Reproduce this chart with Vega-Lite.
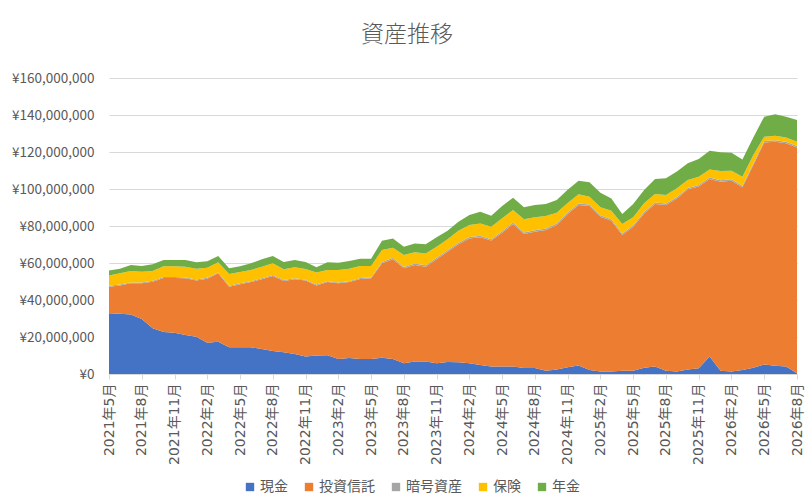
{
  "$schema": "https://vega.github.io/schema/vega-lite/v6.json",
  "width": 688,
  "height": 296,
  "autosize": {"type": "none"},
  "padding": {"left": 109, "top": 78, "right": 10, "bottom": 121},
  "background": "white",
  "config": {
    "font": "Noto Sans CJK JP",
    "view": {"stroke": null}
  },
  "title": {
    "text": "資産推移",
    "fontSize": 23,
    "fontWeight": 300,
    "color": "#595959",
    "anchor": "middle",
    "dx": -46,
    "offset": 24
  },
  "datasets": {
    "order": [
      {"種類": "現金", "順": 1},
      {"種類": "投資信託", "順": 2},
      {"種類": "暗号資産", "順": 3},
      {"種類": "保険", "順": 4},
      {"種類": "年金", "順": 5}
    ]
  },
  "data": {
    "values": [
      {"月": "2021年5月", "現金": 32800000, "投資信託": 14400000, "暗号資産": 500000, "保険": 5500000, "年金": 2700000},
      {"月": "2021年6月", "現金": 32600000, "投資信託": 15300000, "暗号資産": 500000, "保険": 6000000, "年金": 2500000},
      {"月": "2021年7月", "現金": 32100000, "投資信託": 16900000, "暗号資産": 500000, "保険": 6200000, "年金": 3200000},
      {"月": "2021年8月", "現金": 29700000, "投資信託": 19300000, "暗号資産": 500000, "保険": 5800000, "年金": 3100000},
      {"月": "2021年9月", "現金": 24700000, "投資信託": 25200000, "暗号資産": 500000, "保険": 5300000, "年金": 3600000},
      {"月": "2021年10月", "現金": 22700000, "投資信託": 29200000, "暗号資産": 500000, "保険": 5800000, "年金": 3400000},
      {"月": "2021年11月", "現金": 22300000, "投資信託": 29600000, "暗号資産": 500000, "保険": 5800000, "年金": 3400000},
      {"月": "2021年12月", "現金": 21100000, "投資信託": 30600000, "暗号資産": 500000, "保険": 5800000, "年金": 3600000},
      {"月": "2022年1月", "現金": 20200000, "投資信託": 30400000, "暗号資産": 500000, "保険": 5800000, "年金": 3500000},
      {"月": "2022年2月", "現金": 16900000, "投資信託": 34600000, "暗号資産": 500000, "保険": 5500000, "年金": 3400000},
      {"月": "2022年3月", "現金": 17500000, "投資信託": 36900000, "暗号資産": 500000, "保険": 5500000, "年金": 3400000},
      {"月": "2022年4月", "現金": 14400000, "投資信託": 32800000, "暗号資産": 500000, "保険": 6400000, "年金": 3000000},
      {"月": "2022年5月", "現金": 14400000, "投資信託": 34100000, "暗号資産": 500000, "保険": 6100000, "年金": 3100000},
      {"月": "2022年6月", "現金": 14400000, "投資信託": 35300000, "暗号資産": 500000, "保険": 6000000, "年金": 3600000},
      {"月": "2022年7月", "現金": 13500000, "投資信託": 37700000, "暗号資産": 500000, "保険": 6300000, "年金": 4000000},
      {"月": "2022年8月", "現金": 12500000, "投資信託": 40500000, "暗号資産": 500000, "保険": 6300000, "年金": 4000000},
      {"月": "2022年9月", "現金": 11700000, "投資信託": 38600000, "暗号資産": 500000, "保険": 5800000, "年金": 3900000},
      {"月": "2022年10月", "現金": 10800000, "投資信託": 40400000, "暗号資産": 500000, "保険": 6000000, "年金": 3900000},
      {"月": "2022年11月", "現金": 9400000, "投資信託": 41100000, "暗号資産": 500000, "保険": 5800000, "年金": 3700000},
      {"月": "2022年12月", "現金": 10000000, "投資信託": 37900000, "暗号資産": 500000, "保険": 6400000, "年金": 2900000},
      {"月": "2023年1月", "現金": 10100000, "投資信託": 39600000, "暗号資産": 500000, "保険": 6000000, "年金": 4200000},
      {"月": "2023年2月", "現金": 8100000, "投資信託": 40900000, "暗号資産": 500000, "保険": 6700000, "年金": 4000000},
      {"月": "2023年3月", "現金": 8600000, "投資信託": 41100000, "暗号資産": 500000, "保険": 6700000, "年金": 4200000},
      {"月": "2023年4月", "現金": 8100000, "投資信託": 43300000, "暗号資産": 500000, "保険": 6500000, "年金": 3900000},
      {"月": "2023年5月", "現金": 8100000, "投資信託": 43600000, "暗号資産": 500000, "保険": 6200000, "年金": 3900000},
      {"月": "2023年6月", "現金": 8800000, "投資信託": 51000000, "暗号資産": 800000, "保険": 6400000, "年金": 5000000},
      {"月": "2023年7月", "現金": 8100000, "投資信託": 53900000, "暗号資産": 800000, "保険": 5500000, "年金": 5000000},
      {"月": "2023年8月", "現金": 5800000, "投資信託": 51300000, "暗号資産": 800000, "保険": 6400000, "年金": 4500000},
      {"月": "2023年9月", "現金": 6800000, "投資信託": 52100000, "暗号資産": 800000, "保険": 6100000, "年金": 4800000},
      {"月": "2023年10月", "現金": 6800000, "投資信託": 51200000, "暗号資産": 800000, "保険": 6400000, "年金": 4900000},
      {"月": "2023年11月", "現金": 5800000, "投資信託": 56200000, "暗号資産": 800000, "保険": 6000000, "年金": 5100000},
      {"月": "2023年12月", "現金": 6500000, "投資信託": 59600000, "暗号資産": 800000, "保険": 5900000, "年金": 4700000},
      {"月": "2024年1月", "現金": 6400000, "投資信託": 63700000, "暗号資産": 800000, "保険": 6600000, "年金": 4800000},
      {"月": "2024年2月", "現金": 5800000, "投資信託": 67500000, "暗号資産": 800000, "保険": 6400000, "年金": 5400000},
      {"月": "2024年3月", "現金": 4900000, "投資信託": 69000000, "暗号資産": 800000, "保険": 6700000, "年金": 6300000},
      {"月": "2024年4月", "現金": 4000000, "投資信託": 68100000, "暗号資産": 800000, "保険": 6700000, "年金": 6000000},
      {"月": "2024年5月", "現金": 4000000, "投資信託": 72400000, "暗号資産": 800000, "保険": 7000000, "年金": 6600000},
      {"月": "2024年6月", "現金": 4000000, "投資信託": 77100000, "暗号資産": 800000, "保険": 6700000, "年金": 6700000},
      {"月": "2024年7月", "現金": 3200000, "投資信託": 72500000, "暗号資産": 800000, "保険": 7100000, "年金": 6500000},
      {"月": "2024年8月", "現金": 3200000, "投資信託": 73700000, "暗号資産": 800000, "保険": 7000000, "年金": 6700000},
      {"月": "2024年9月", "現金": 1800000, "投資信託": 76000000, "暗号資産": 800000, "保険": 6800000, "年金": 6500000},
      {"月": "2024年10月", "現金": 2500000, "投資信託": 78000000, "暗号資産": 800000, "保険": 5900000, "年金": 6900000},
      {"月": "2024年11月", "現金": 3600000, "投資信託": 82900000, "暗号資産": 800000, "保険": 5200000, "年金": 7100000},
      {"月": "2024年12月", "現金": 4600000, "投資信託": 86800000, "暗号資産": 800000, "保険": 5000000, "年金": 7200000},
      {"月": "2025年1月", "現金": 2200000, "投資信託": 88600000, "暗号資産": 800000, "保険": 4200000, "年金": 7800000},
      {"月": "2025年2月", "現金": 1300000, "投資信託": 83700000, "暗号資産": 800000, "保険": 4300000, "年金": 7900000},
      {"月": "2025年3月", "現金": 1300000, "投資信託": 81600000, "暗号資産": 800000, "保険": 4600000, "年金": 6600000},
      {"月": "2025年4月", "現金": 1800000, "投資信託": 73300000, "暗号資産": 800000, "保険": 5200000, "年金": 5400000},
      {"月": "2025年5月", "現金": 1800000, "投資信託": 77800000, "暗号資産": 800000, "保険": 4300000, "年金": 7200000},
      {"月": "2025年6月", "現金": 3400000, "投資信託": 83400000, "暗号資産": 800000, "保険": 4700000, "年金": 7200000},
      {"月": "2025年7月", "現金": 4000000, "投資信託": 87900000, "暗号資産": 800000, "保険": 4600000, "年金": 8100000},
      {"月": "2025年8月", "現金": 1800000, "投資信託": 89600000, "暗号資産": 800000, "保険": 4600000, "年金": 9000000},
      {"月": "2025年9月", "現金": 1300000, "投資信託": 93600000, "暗号資産": 800000, "保険": 4700000, "年金": 9000000},
      {"月": "2025年10月", "現金": 2500000, "投資信託": 97300000, "暗号資産": 800000, "保険": 4300000, "年金": 9000000},
      {"月": "2025年11月", "現金": 3100000, "投資信託": 98200000, "暗号資産": 800000, "保険": 4500000, "年金": 9600000},
      {"月": "2025年12月", "現金": 9400000, "投資信託": 96000000, "暗号資産": 800000, "保険": 4400000, "年金": 10100000},
      {"月": "2026年1月", "現金": 1800000, "投資信託": 102100000, "暗号資産": 800000, "保険": 5000000, "年金": 10100000},
      {"月": "2026年2月", "現金": 1300000, "投資信託": 103200000, "暗号資産": 800000, "保険": 4600000, "年金": 9700000},
      {"月": "2026年3月", "現金": 2200000, "投資信託": 98700000, "暗号資産": 800000, "保険": 4900000, "年金": 9400000},
      {"月": "2026年4月", "現金": 3400000, "投資信託": 109600000, "暗号資産": 800000, "保険": 4600000, "年金": 9500000},
      {"月": "2026年5月", "現金": 5200000, "投資信託": 120000000, "暗号資産": 800000, "保険": 2300000, "年金": 10800000},
      {"月": "2026年6月", "現金": 4500000, "投資信託": 121100000, "暗号資産": 800000, "保険": 2400000, "年金": 11600000},
      {"月": "2026年7月", "現金": 4000000, "投資信託": 120700000, "暗号資産": 800000, "保険": 2400000, "年金": 11200000},
      {"月": "2026年8月", "現金": 400000, "投資信託": 122100000, "暗号資産": 800000, "保険": 2300000, "年金": 11700000}
    ]
  },
  "transform": [
    {"fold": ["現金", "投資信託", "暗号資産", "保険", "年金"], "as": ["種類", "金額"]},
    {"lookup": "種類", "from": {"data": {"name": "order"}, "key": "種類", "fields": ["順"]}}
  ],
  "mark": {"type": "area", "opacity": 1},
  "encoding": {
    "x": {
      "field": "月",
      "type": "ordinal",
      "sort": null,
      "scale": {"type": "point", "padding": 0},
      "axis": {
        "title": null,
        "values": ["2021年5月", "2021年8月", "2021年11月", "2022年2月", "2022年5月", "2022年8月", "2022年11月", "2023年2月", "2023年5月", "2023年8月", "2023年11月", "2024年2月", "2024年5月", "2024年8月", "2024年11月", "2025年2月", "2025年5月", "2025年8月", "2025年11月", "2026年2月", "2026年5月", "2026年8月"],
        "labelAngle": -90,
        "labelFont": "DejaVu Sans, Noto Sans CJK JP",
        "labelFontSize": 14,
        "labelColor": "#595959",
        "labelPadding": 4,
        "domainColor": "#D9D9D9",
        "tickColor": "#D9D9D9",
        "tickSize": 5,
        "grid": false
      }
    },
    "y": {
      "field": "金額",
      "type": "quantitative",
      "stack": "zero",
      "scale": {"domain": [0, 160000000], "nice": false},
      "axis": {
        "title": null,
        "values": [0, 20000000, 40000000, 60000000, 80000000, 100000000, 120000000, 140000000, 160000000],
        "labelExpr": "'¥' + format(datum.value, ',')",
        "labelFontSize": 13.5,
        "labelColor": "#595959",
        "labelPadding": 15,
        "ticks": false,
        "domain": false,
        "gridColor": "#D9D9D9",
        "gridWidth": 1
      }
    },
    "order": {"field": "順", "type": "quantitative"},
    "color": {
      "field": "種類",
      "type": "nominal",
      "scale": {
        "domain": ["現金", "投資信託", "暗号資産", "保険", "年金"],
        "range": ["#4472C4", "#ED7D31", "#A5A5A5", "#FFC000", "#70AD47"]
      },
      "legend": {
        "title": null,
        "orient": "none",
        "legendX": 134,
        "legendY": 402,
        "direction": "horizontal",
        "symbolType": "square",
        "symbolSize": 70,
        "symbolStrokeWidth": 0,
        "labelFontSize": 14,
        "labelColor": "#595959",
        "labelOffset": 3,
        "columnPadding": 14
      }
    }
  }
}
